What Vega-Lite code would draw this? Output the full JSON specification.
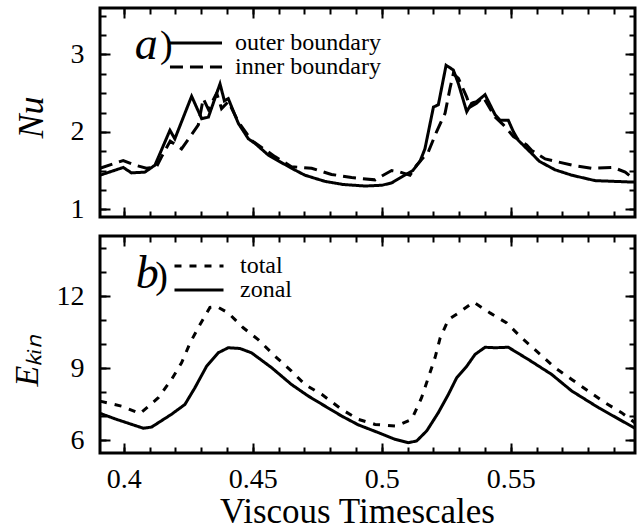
{
  "$schema": "https://vega.github.io/schema/vega-lite/v6.json",
  "padding": {"left": 8, "top": 5, "right": 4, "bottom": 0},
  "background": "white",
  "spacing": 8,
  "resolve": {"scale": {"strokeDash": "independent"}, "legend": {"strokeDash": "independent"}},
  "config": {
    "font": "Liberation Serif, Times New Roman, Times, serif",
    "view": {"stroke": "black", "strokeWidth": 3},
    "axis": {
      "domain": false, "grid": false, "tickColor": "black", "tickWidth": 2,
      "labelFont": "Liberation Serif, Times New Roman, Times, serif", "labelFontSize": 28, "labelColor": "black",
      "titleFont": "Liberation Serif, Times New Roman, Times, serif", "titleColor": "black", "titleFontWeight": "normal",
      "labelFlush": false, "labelOverlap": false, "offset": 0
    },
    "legend": {
      "title": null, "orient": "none", "symbolStrokeWidth": 3,
      "symbolStrokeColor": "black", "labelFont": "Liberation Serif, Times New Roman, Times, serif", "labelFontSize": 24,
      "labelColor": "black", "rowPadding": 0, "padding": 0, "symbolSize": 361
    }
  },
  "datasets": {
    "nu": [
      {"t": 0.3908, "Nu": 1.44, "boundary": "outer boundary"},
      {"t": 0.3998, "Nu": 1.54, "boundary": "outer boundary"},
      {"t": 0.4030, "Nu": 1.47, "boundary": "outer boundary"},
      {"t": 0.4082, "Nu": 1.48, "boundary": "outer boundary"},
      {"t": 0.4121, "Nu": 1.57, "boundary": "outer boundary"},
      {"t": 0.4179, "Nu": 2.02, "boundary": "outer boundary"},
      {"t": 0.4198, "Nu": 1.91, "boundary": "outer boundary"},
      {"t": 0.4263, "Nu": 2.46, "boundary": "outer boundary"},
      {"t": 0.4302, "Nu": 2.17, "boundary": "outer boundary"},
      {"t": 0.4328, "Nu": 2.19, "boundary": "outer boundary"},
      {"t": 0.4373, "Nu": 2.62, "boundary": "outer boundary"},
      {"t": 0.4390, "Nu": 2.40, "boundary": "outer boundary"},
      {"t": 0.4405, "Nu": 2.43, "boundary": "outer boundary"},
      {"t": 0.4444, "Nu": 2.11, "boundary": "outer boundary"},
      {"t": 0.4483, "Nu": 1.91, "boundary": "outer boundary"},
      {"t": 0.4509, "Nu": 1.85, "boundary": "outer boundary"},
      {"t": 0.4560, "Nu": 1.70, "boundary": "outer boundary"},
      {"t": 0.4586, "Nu": 1.65, "boundary": "outer boundary"},
      {"t": 0.4650, "Nu": 1.53, "boundary": "outer boundary"},
      {"t": 0.4702, "Nu": 1.44, "boundary": "outer boundary"},
      {"t": 0.4780, "Nu": 1.36, "boundary": "outer boundary"},
      {"t": 0.4850, "Nu": 1.32, "boundary": "outer boundary"},
      {"t": 0.4935, "Nu": 1.30, "boundary": "outer boundary"},
      {"t": 0.5000, "Nu": 1.31, "boundary": "outer boundary"},
      {"t": 0.5038, "Nu": 1.34, "boundary": "outer boundary"},
      {"t": 0.5083, "Nu": 1.43, "boundary": "outer boundary"},
      {"t": 0.5120, "Nu": 1.50, "boundary": "outer boundary"},
      {"t": 0.5148, "Nu": 1.62, "boundary": "outer boundary"},
      {"t": 0.5167, "Nu": 1.78, "boundary": "outer boundary"},
      {"t": 0.5200, "Nu": 2.32, "boundary": "outer boundary"},
      {"t": 0.5219, "Nu": 2.35, "boundary": "outer boundary"},
      {"t": 0.5249, "Nu": 2.86, "boundary": "outer boundary"},
      {"t": 0.5277, "Nu": 2.80, "boundary": "outer boundary"},
      {"t": 0.5297, "Nu": 2.62, "boundary": "outer boundary"},
      {"t": 0.5329, "Nu": 2.26, "boundary": "outer boundary"},
      {"t": 0.5348, "Nu": 2.37, "boundary": "outer boundary"},
      {"t": 0.5367, "Nu": 2.39, "boundary": "outer boundary"},
      {"t": 0.5400, "Nu": 2.48, "boundary": "outer boundary"},
      {"t": 0.5439, "Nu": 2.22, "boundary": "outer boundary"},
      {"t": 0.5458, "Nu": 2.15, "boundary": "outer boundary"},
      {"t": 0.5490, "Nu": 2.15, "boundary": "outer boundary"},
      {"t": 0.5510, "Nu": 2.00, "boundary": "outer boundary"},
      {"t": 0.5529, "Nu": 1.89, "boundary": "outer boundary"},
      {"t": 0.5587, "Nu": 1.70, "boundary": "outer boundary"},
      {"t": 0.5610, "Nu": 1.62, "boundary": "outer boundary"},
      {"t": 0.5671, "Nu": 1.51, "boundary": "outer boundary"},
      {"t": 0.5736, "Nu": 1.44, "boundary": "outer boundary"},
      {"t": 0.5826, "Nu": 1.37, "boundary": "outer boundary"},
      {"t": 0.5981, "Nu": 1.35, "boundary": "outer boundary"},
      {"t": 0.3908, "Nu": 1.53, "boundary": "inner boundary"},
      {"t": 0.3998, "Nu": 1.63, "boundary": "inner boundary"},
      {"t": 0.4043, "Nu": 1.57, "boundary": "inner boundary"},
      {"t": 0.4088, "Nu": 1.53, "boundary": "inner boundary"},
      {"t": 0.4127, "Nu": 1.55, "boundary": "inner boundary"},
      {"t": 0.4147, "Nu": 1.68, "boundary": "inner boundary"},
      {"t": 0.4180, "Nu": 1.88, "boundary": "inner boundary"},
      {"t": 0.4224, "Nu": 1.78, "boundary": "inner boundary"},
      {"t": 0.4289, "Nu": 2.09, "boundary": "inner boundary"},
      {"t": 0.4308, "Nu": 2.43, "boundary": "inner boundary"},
      {"t": 0.4328, "Nu": 2.29, "boundary": "inner boundary"},
      {"t": 0.4360, "Nu": 2.50, "boundary": "inner boundary"},
      {"t": 0.4379, "Nu": 2.30, "boundary": "inner boundary"},
      {"t": 0.4405, "Nu": 2.39, "boundary": "inner boundary"},
      {"t": 0.4444, "Nu": 2.13, "boundary": "inner boundary"},
      {"t": 0.4495, "Nu": 1.89, "boundary": "inner boundary"},
      {"t": 0.4586, "Nu": 1.68, "boundary": "inner boundary"},
      {"t": 0.4650, "Nu": 1.55, "boundary": "inner boundary"},
      {"t": 0.4728, "Nu": 1.53, "boundary": "inner boundary"},
      {"t": 0.4805, "Nu": 1.45, "boundary": "inner boundary"},
      {"t": 0.4883, "Nu": 1.41, "boundary": "inner boundary"},
      {"t": 0.4974, "Nu": 1.38, "boundary": "inner boundary"},
      {"t": 0.5038, "Nu": 1.50, "boundary": "inner boundary"},
      {"t": 0.5071, "Nu": 1.48, "boundary": "inner boundary"},
      {"t": 0.5109, "Nu": 1.44, "boundary": "inner boundary"},
      {"t": 0.5135, "Nu": 1.57, "boundary": "inner boundary"},
      {"t": 0.5180, "Nu": 1.74, "boundary": "inner boundary"},
      {"t": 0.5212, "Nu": 2.00, "boundary": "inner boundary"},
      {"t": 0.5245, "Nu": 2.24, "boundary": "inner boundary"},
      {"t": 0.5264, "Nu": 2.56, "boundary": "inner boundary"},
      {"t": 0.5277, "Nu": 2.75, "boundary": "inner boundary"},
      {"t": 0.5297, "Nu": 2.69, "boundary": "inner boundary"},
      {"t": 0.5329, "Nu": 2.45, "boundary": "inner boundary"},
      {"t": 0.5342, "Nu": 2.32, "boundary": "inner boundary"},
      {"t": 0.5367, "Nu": 2.37, "boundary": "inner boundary"},
      {"t": 0.5393, "Nu": 2.45, "boundary": "inner boundary"},
      {"t": 0.5439, "Nu": 2.19, "boundary": "inner boundary"},
      {"t": 0.5471, "Nu": 2.09, "boundary": "inner boundary"},
      {"t": 0.5510, "Nu": 1.94, "boundary": "inner boundary"},
      {"t": 0.5561, "Nu": 1.83, "boundary": "inner boundary"},
      {"t": 0.5581, "Nu": 1.76, "boundary": "inner boundary"},
      {"t": 0.5633, "Nu": 1.65, "boundary": "inner boundary"},
      {"t": 0.5736, "Nu": 1.57, "boundary": "inner boundary"},
      {"t": 0.5813, "Nu": 1.53, "boundary": "inner boundary"},
      {"t": 0.5897, "Nu": 1.54, "boundary": "inner boundary"},
      {"t": 0.5943, "Nu": 1.48, "boundary": "inner boundary"},
      {"t": 0.5981, "Nu": 1.38, "boundary": "inner boundary"}
    ],
    "ekin": [
      {"t": 0.3908, "E": 7.63, "kind": "total"},
      {"t": 0.3991, "E": 7.42, "kind": "total"},
      {"t": 0.4063, "E": 7.11, "kind": "total"},
      {"t": 0.4134, "E": 7.77, "kind": "total"},
      {"t": 0.4185, "E": 8.53, "kind": "total"},
      {"t": 0.4224, "E": 9.22, "kind": "total"},
      {"t": 0.4257, "E": 10.05, "kind": "total"},
      {"t": 0.4295, "E": 10.81, "kind": "total"},
      {"t": 0.4334, "E": 11.53, "kind": "total"},
      {"t": 0.4360, "E": 11.57, "kind": "total"},
      {"t": 0.4405, "E": 11.30, "kind": "total"},
      {"t": 0.4463, "E": 10.68, "kind": "total"},
      {"t": 0.4521, "E": 10.19, "kind": "total"},
      {"t": 0.4586, "E": 9.50, "kind": "total"},
      {"t": 0.4650, "E": 8.88, "kind": "total"},
      {"t": 0.4702, "E": 8.32, "kind": "total"},
      {"t": 0.4767, "E": 7.91, "kind": "total"},
      {"t": 0.4844, "E": 7.29, "kind": "total"},
      {"t": 0.4909, "E": 6.87, "kind": "total"},
      {"t": 0.4974, "E": 6.66, "kind": "total"},
      {"t": 0.5057, "E": 6.59, "kind": "total"},
      {"t": 0.5116, "E": 6.87, "kind": "total"},
      {"t": 0.5154, "E": 7.77, "kind": "total"},
      {"t": 0.5180, "E": 8.60, "kind": "total"},
      {"t": 0.5206, "E": 9.43, "kind": "total"},
      {"t": 0.5226, "E": 10.26, "kind": "total"},
      {"t": 0.5258, "E": 11.02, "kind": "total"},
      {"t": 0.5297, "E": 11.30, "kind": "total"},
      {"t": 0.5355, "E": 11.75, "kind": "total"},
      {"t": 0.5419, "E": 11.30, "kind": "total"},
      {"t": 0.5484, "E": 10.88, "kind": "total"},
      {"t": 0.5542, "E": 10.26, "kind": "total"},
      {"t": 0.5607, "E": 9.64, "kind": "total"},
      {"t": 0.5671, "E": 9.02, "kind": "total"},
      {"t": 0.5736, "E": 8.53, "kind": "total"},
      {"t": 0.5800, "E": 8.05, "kind": "total"},
      {"t": 0.5865, "E": 7.56, "kind": "total"},
      {"t": 0.5929, "E": 7.15, "kind": "total"},
      {"t": 0.5981, "E": 6.73, "kind": "total"},
      {"t": 0.3908, "E": 7.12, "kind": "zonal"},
      {"t": 0.3972, "E": 6.87, "kind": "zonal"},
      {"t": 0.4076, "E": 6.50, "kind": "zonal"},
      {"t": 0.4108, "E": 6.55, "kind": "zonal"},
      {"t": 0.4185, "E": 7.08, "kind": "zonal"},
      {"t": 0.4237, "E": 7.49, "kind": "zonal"},
      {"t": 0.4276, "E": 8.19, "kind": "zonal"},
      {"t": 0.4321, "E": 9.08, "kind": "zonal"},
      {"t": 0.4366, "E": 9.64, "kind": "zonal"},
      {"t": 0.4405, "E": 9.85, "kind": "zonal"},
      {"t": 0.4450, "E": 9.82, "kind": "zonal"},
      {"t": 0.4495, "E": 9.64, "kind": "zonal"},
      {"t": 0.4573, "E": 9.02, "kind": "zonal"},
      {"t": 0.4650, "E": 8.32, "kind": "zonal"},
      {"t": 0.4715, "E": 7.84, "kind": "zonal"},
      {"t": 0.4780, "E": 7.42, "kind": "zonal"},
      {"t": 0.4844, "E": 7.01, "kind": "zonal"},
      {"t": 0.4909, "E": 6.64, "kind": "zonal"},
      {"t": 0.4986, "E": 6.32, "kind": "zonal"},
      {"t": 0.5051, "E": 6.04, "kind": "zonal"},
      {"t": 0.5103, "E": 5.90, "kind": "zonal"},
      {"t": 0.5135, "E": 5.97, "kind": "zonal"},
      {"t": 0.5174, "E": 6.39, "kind": "zonal"},
      {"t": 0.5219, "E": 7.15, "kind": "zonal"},
      {"t": 0.5258, "E": 7.91, "kind": "zonal"},
      {"t": 0.5290, "E": 8.60, "kind": "zonal"},
      {"t": 0.5329, "E": 9.08, "kind": "zonal"},
      {"t": 0.5361, "E": 9.57, "kind": "zonal"},
      {"t": 0.5400, "E": 9.87, "kind": "zonal"},
      {"t": 0.5439, "E": 9.85, "kind": "zonal"},
      {"t": 0.5490, "E": 9.87, "kind": "zonal"},
      {"t": 0.5568, "E": 9.36, "kind": "zonal"},
      {"t": 0.5658, "E": 8.74, "kind": "zonal"},
      {"t": 0.5736, "E": 8.05, "kind": "zonal"},
      {"t": 0.5839, "E": 7.36, "kind": "zonal"},
      {"t": 0.5981, "E": 6.50, "kind": "zonal"}
    ]
  },
  "vconcat": [
    {
      "width": 535,
      "height": 209,
      "data": {"name": "nu"},
      "resolve": {"axis": {"x": "independent", "y": "independent"}},
      "layer": [
        {
          "mark": {"type": "line", "color": "black", "strokeWidth": 3},
          "encoding": {
            "x": {"field": "t", "type": "quantitative",
              "scale": {"domain": [0.3908, 0.5981], "nice": false, "zero": false},
              "axis": {"orient": "bottom", "values": [0.4, 0.45, 0.5, 0.55], "labels": false, "tickSize": -10, "title": null, "offset": 0}},
            "y": {"field": "Nu", "type": "quantitative",
              "scale": {"domain": [0.9, 3.6], "nice": false, "zero": false},
              "axis": {"orient": "left", "values": [1, 2, 3], "tickSize": -10, "labelPadding": 26, "offset": 0,
                "title": "Nu", "titleFontSize": 36, "titleFontStyle": "italic", "titleAngle": 270,
                "titleX": -58, "titleY": 109, "titleAlign": "center", "titleBaseline": "alphabetic"}},
            "strokeDash": {"field": "boundary", "type": "nominal",
              "scale": {"domain": ["outer boundary", "inner boundary"], "range": [[1, 0], [13, 7]]},
              "legend": {"legendX": 84, "legendY": 23, "symbolType": "M-2.74,0H2.74", "labelOffset": 27}}
          }
        },
        {
          "mark": {"type": "line", "opacity": 0},
          "encoding": {
            "x": {"field": "t", "type": "quantitative",
              "axis": {"orient": "top", "values": [0.4, 0.45, 0.5, 0.55], "labels": false, "tickSize": -10, "title": null, "offset": 0}},
            "y": {"field": "Nu", "type": "quantitative",
              "axis": {"orient": "right", "values": [1, 2, 3], "labels": false, "tickSize": -10, "title": null, "offset": 0}}
          }
        },
        {
          "mark": {"type": "line", "opacity": 0},
          "encoding": {
            "x": {"field": "t", "type": "quantitative",
              "axis": {"orient": "bottom", "values": [0.4, 0.41, 0.42, 0.43, 0.44, 0.45, 0.46, 0.47, 0.48, 0.49, 0.5, 0.51, 0.52, 0.53, 0.54, 0.55, 0.56, 0.57, 0.58, 0.59], "labels": false, "tickSize": -6, "title": null, "offset": 0}},
            "y": {"field": "Nu", "type": "quantitative",
              "axis": {"orient": "left", "values": [1, 1.25, 1.5, 1.75, 2, 2.25, 2.5, 2.75, 3, 3.25, 3.5], "labels": false, "tickSize": -6, "title": null, "offset": 0}}
          }
        },
        {
          "mark": {"type": "line", "opacity": 0},
          "encoding": {
            "x": {"field": "t", "type": "quantitative",
              "axis": {"orient": "top", "values": [0.4, 0.41, 0.42, 0.43, 0.44, 0.45, 0.46, 0.47, 0.48, 0.49, 0.5, 0.51, 0.52, 0.53, 0.54, 0.55, 0.56, 0.57, 0.58, 0.59], "labels": false, "tickSize": -6, "title": null, "offset": 0}},
            "y": {"field": "Nu", "type": "quantitative",
              "axis": {"orient": "right", "values": [1, 1.25, 1.5, 1.75, 2, 2.25, 2.5, 2.75, 3, 3.25, 3.5], "labels": false, "tickSize": -6, "title": null, "offset": 0}}
          }
        },
        {
          "data": {"values": [{}]},
          "mark": {"type": "text", "text": "a", "fontSize": 46, "fontStyle": "italic", "font": "Liberation Serif, Times New Roman, Times, serif", "align": "center", "baseline": "alphabetic", "color": "black"},
          "encoding": {
            "x": {"datum": 0.4087, "type": "quantitative", "axis": null},
            "y": {"datum": 2.944, "type": "quantitative", "axis": null}
          }
        },
        {
          "data": {"values": [{}]},
          "mark": {"type": "text", "text": ")", "fontSize": 38, "font": "Liberation Serif, Times New Roman, Times, serif", "align": "center", "baseline": "alphabetic", "color": "black"},
          "encoding": {
            "x": {"datum": 0.4165, "type": "quantitative", "axis": null},
            "y": {"datum": 2.97, "type": "quantitative", "axis": null}
          }
        }
      ]
    },
    {
      "width": 535,
      "height": 217,
      "data": {"name": "ekin"},
      "resolve": {"axis": {"x": "independent", "y": "independent"}},
      "layer": [
        {
          "mark": {"type": "line", "color": "black", "strokeWidth": 3},
          "encoding": {
            "x": {"field": "t", "type": "quantitative",
              "scale": {"domain": [0.3908, 0.5981], "nice": false, "zero": false},
              "axis": {"orient": "bottom", "values": [0.4, 0.45, 0.5, 0.55], "format": ".2~f", "tickSize": -10, "labelPadding": 22, "offset": 0,
                "title": "Viscous Timescales", "titleFontSize": 35, "titleX": 257, "titleY": 69,
                "titleAlign": "center", "titleBaseline": "alphabetic"}},
            "y": {"field": "E", "type": "quantitative",
              "scale": {"domain": [5.47, 14.5], "nice": false, "zero": false},
              "axis": {"orient": "left", "values": [6, 9, 12], "tickSize": -10, "labelPadding": 26, "offset": 0,
                "title": "Eₖᵢₙ", "titleFontSize": 34, "titleFontStyle": "italic", "titleAngle": 270,
                "titleX": -63, "titleY": 124, "titleAlign": "center", "titleBaseline": "alphabetic"}},
            "strokeDash": {"field": "kind", "type": "nominal",
              "scale": {"domain": ["total", "zonal"], "range": [[7, 8], [1, 0]]},
              "legend": {"legendX": 87, "legendY": 18, "symbolType": "M-2.58,0H2.58", "labelOffset": 29}}
          }
        },
        {
          "mark": {"type": "line", "opacity": 0},
          "encoding": {
            "x": {"field": "t", "type": "quantitative",
              "axis": {"orient": "top", "values": [0.4, 0.45, 0.5, 0.55], "labels": false, "tickSize": -10, "title": null, "offset": 0}},
            "y": {"field": "E", "type": "quantitative",
              "axis": {"orient": "right", "values": [6, 9, 12], "labels": false, "tickSize": -10, "title": null, "offset": 0}}
          }
        },
        {
          "mark": {"type": "line", "opacity": 0},
          "encoding": {
            "x": {"field": "t", "type": "quantitative",
              "axis": {"orient": "bottom", "values": [0.4, 0.41, 0.42, 0.43, 0.44, 0.45, 0.46, 0.47, 0.48, 0.49, 0.5, 0.51, 0.52, 0.53, 0.54, 0.55, 0.56, 0.57, 0.58, 0.59], "labels": false, "tickSize": -6, "title": null, "offset": 0}},
            "y": {"field": "E", "type": "quantitative",
              "axis": {"orient": "left", "values": [6, 7, 8, 9, 10, 11, 12, 13, 14], "labels": false, "tickSize": -6, "title": null, "offset": 0}}
          }
        },
        {
          "mark": {"type": "line", "opacity": 0},
          "encoding": {
            "x": {"field": "t", "type": "quantitative",
              "axis": {"orient": "top", "values": [0.4, 0.41, 0.42, 0.43, 0.44, 0.45, 0.46, 0.47, 0.48, 0.49, 0.5, 0.51, 0.52, 0.53, 0.54, 0.55, 0.56, 0.57, 0.58, 0.59], "labels": false, "tickSize": -6, "title": null, "offset": 0}},
            "y": {"field": "E", "type": "quantitative",
              "axis": {"orient": "right", "values": [6, 7, 8, 9, 10, 11, 12, 13, 14], "labels": false, "tickSize": -6, "title": null, "offset": 0}}
          }
        },
        {
          "data": {"values": [{}]},
          "mark": {"type": "text", "text": "b", "fontSize": 46, "fontStyle": "italic", "font": "Liberation Serif, Times New Roman, Times, serif", "align": "center", "baseline": "alphabetic", "color": "black"},
          "encoding": {
            "x": {"datum": 0.4091, "type": "quantitative", "axis": null},
            "y": {"datum": 12.35, "type": "quantitative", "axis": null}
          }
        },
        {
          "data": {"values": [{}]},
          "mark": {"type": "text", "text": ")", "fontSize": 38, "font": "Liberation Serif, Times New Roman, Times, serif", "align": "center", "baseline": "alphabetic", "color": "black"},
          "encoding": {
            "x": {"datum": 0.4147, "type": "quantitative", "axis": null},
            "y": {"datum": 12.35, "type": "quantitative", "axis": null}
          }
        }
      ]
    }
  ]
}
